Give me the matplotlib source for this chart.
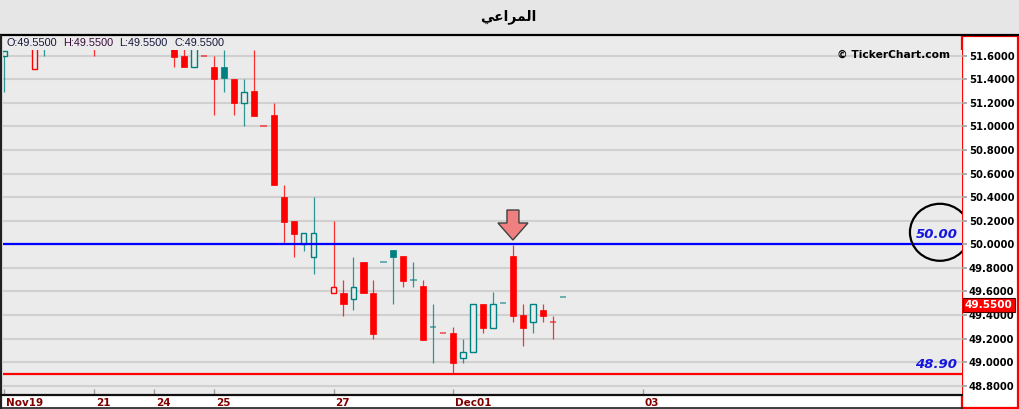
import numpy as np
import matplotlib
matplotlib.use("Agg")
import matplotlib.pyplot as plt
import matplotlib.transforms as mtrans
from matplotlib.patches import Rectangle, Ellipse, Polygon
from matplotlib.lines import Line2D

plt.rcParams['font.family'] = ['DejaVu Sans']

nan = np.nan
# ---- data (hourly candles, index 0 = first bar of the window) ----
opens = [51.60, 51.66, 51.70, 51.49, 51.70, nan, nan, nan, nan, 51.73,
         nan, nan, nan, nan, nan, nan, nan, 51.70, 51.60, 51.50,
         51.60, 51.50, 51.50, 51.40, 51.20, 51.30, 51.00, 51.10, 50.40, 50.20,
         50.00, 49.89, nan, 49.59, 49.59, 49.54, 49.85, 49.59, 49.85, 49.95,
         49.90, 49.70, 49.65, 49.30, 49.245, 49.245, 49.04, 49.09, 49.49, 49.29,
         49.50, 49.90, 49.40, 49.34, 49.44, 49.34, 49.55]
highs = [51.64, 51.72, 51.75, 51.68, 51.74, nan, nan, nan, nan, 51.75,
         nan, nan, nan, nan, nan, nan, nan, 51.72, 51.70, 51.70,
         51.60, 51.60, 51.65, 51.40, 51.40, 51.65, 51.00, 51.20, 50.50, 50.20,
         50.095, 50.40, nan, 50.20, 49.70, 49.895, 49.85, 49.70, 49.85, 49.95,
         49.90, 49.85, 49.70, 49.49, 49.245, 49.30, 49.195, 49.49, 49.49, 49.596,
         49.50, 49.994, 49.494, 49.49, 49.494, 49.395, 49.55]
lows = [51.29, 51.66, 51.68, 51.49, 51.60, nan, nan, nan, nan, 51.60,
        nan, nan, nan, nan, nan, nan, nan, 51.50, 51.50, 51.50,
        51.60, 51.10, 51.29, 51.10, 51.00, 51.09, 51.00, 50.50, 50.01, 49.895,
        49.94, 49.75, nan, 49.59, 49.39, 49.44, 49.59, 49.195, 49.85, 49.49,
        49.64, 49.64, 49.19, 48.99, 49.245, 48.90, 48.99, 49.09, 49.245, 49.29,
        49.50, 49.34, 49.14, 49.245, 49.34, 49.195, 49.55]
closes = [51.64, 51.70, 51.72, 51.68, 51.72, nan, nan, nan, nan, 51.70,
          nan, nan, nan, nan, nan, nan, nan, 51.59, 51.50, 51.66,
          51.60, 51.40, 51.41, 51.20, 51.29, 51.09, 51.00, 50.50, 50.19, 50.085,
          50.095, 50.10, nan, 49.64, 49.49, 49.64, 49.59, 49.24, 49.85, 49.895,
          49.69, 49.70, 49.19, 49.30, 49.245, 48.99, 49.09, 49.49, 49.29, 49.49,
          49.50, 49.39, 49.29, 49.49, 49.39, 49.34, 49.55]

tick_idx = [0, 9, 15, 21, 33, 45, 64]
tick_labels = ['Nov19', '21', '24', '25', '27', 'Dec01', '03']
level_values = [50.00, 48.90]
level_labels = ['50.00', '48.90']
level_colors = ['#0000ff', '#ff0000']
header_labels = ['O:49.5500', 'H:49.5500', 'L:49.5500', 'C:49.5500']
last_price = 49.55
signal_bar = 51
title = '\uFEF2\uFECB\uFE8D\uFEAE\uFEE4\uFEDF\uFE8D'   # المراعي (shaped for display)

UP = '#008080'
DOWN = '#ff0000'
BG = '#ebebeb'

W, H = 1020, 409
fig = plt.figure(figsize=(W / 100, H / 100), dpi=100, facecolor=BG)

def fx(px):
    return px / W

def fy(py):
    return 1 - py / H

# background pieces
fig.add_artist(Rectangle((0, fy(34)), 1, 34 / H, transform=fig.transFigure,
                         facecolor='#e6e6e6', edgecolor='none', zorder=-5))
fig.add_artist(Line2D([0, 1], [fy(35), fy(35)], transform=fig.transFigure,
                      color='black', lw=1.6, zorder=-4))
fig.add_artist(Rectangle((0, fy(408)), fx(962), 13 / H, transform=fig.transFigure,
                         facecolor='white', edgecolor='none', zorder=-5))
fig.add_artist(Line2D([0, fx(962)], [fy(408), fy(408)], transform=fig.transFigure,
                      color='#202020', lw=1.2, zorder=-4))
fig.add_artist(Line2D([fx(1.2), fx(1.2)], [fy(36), fy(408)], transform=fig.transFigure,
                      color='#202020', lw=1.6, zorder=-4))
fig.add_artist(Rectangle((fx(962), fy(408)), fx(56), 372 / H, transform=fig.transFigure,
                         facecolor='white', edgecolor='#ff0000', lw=1.6, zorder=-5))
fig.add_artist(Line2D([0, fx(962)], [fy(395), fy(395)], transform=fig.transFigure,
                      color='#101010', lw=1.6, zorder=5))

ax = fig.add_axes([fx(3), fy(395), fx(959), (395 - 50.3) / H])
ax.set_facecolor(BG)
for s in ax.spines.values():
    s.set_visible(False)

o = np.array(opens, float)
h = np.array(highs, float)
l = np.array(lows, float)
c = np.array(closes, float)
x = np.arange(len(o))

# hollow-candle colouring: colour vs previous close, fill vs open
cols = []
prev = nan
for i in range(len(c)):
    if np.isnan(c[i]):
        cols.append(UP)
        continue
    ref = o[i] if np.isnan(prev) else prev
    cols.append(UP if c[i] >= ref else DOWN)
    prev = c[i]
cols = np.array(cols)
valid = ~np.isnan(c)

ax.vlines(x[valid], l[valid], h[valid], colors=cols[valid], lw=0.9, alpha=0.8, zorder=2)
filled = valid & (c < o)
hollow = valid & (c > o)
flat = valid & (c == o)
ax.bar(x[filled], (o - c)[filled], bottom=c[filled], width=0.62,
       color=cols[filled], edgecolor=cols[filled], lw=0.5, zorder=3)
ax.bar(x[hollow], (c - o)[hollow], bottom=o[hollow], width=0.58,
       facecolor=BG, edgecolor=cols[hollow], lw=1.0, zorder=3)
ax.hlines(c[flat], x[flat] - 0.33, x[flat] + 0.33, colors=cols[flat], lw=1.1,
          alpha=0.7, zorder=3)

ax.set_xlim(-0.15, 96.04)
ax.set_ylim(48.7225, 51.6445)

yt = np.round(np.arange(48.8, 51.61, 0.2), 1)
ax.set_yticks(yt)
ax.set_yticklabels(['%.4f' % v for v in yt])
ax.yaxis.tick_right()
ax.grid(axis='y', color='#d0d0d0', lw=1.5)
ax.set_axisbelow(True)
ax.tick_params(axis='y', direction='out', length=3.5, width=1.2, color='#a0a0a0',
               pad=1.5, labelsize=7.2, labelcolor='black')
for t in ax.get_yticklabels():
    t.set_fontweight('bold')

ax.set_xticks(tick_idx)
ax.set_xticklabels(tick_labels)
ax.tick_params(axis='x', direction='in', length=4, width=1, color='#a0a0a0',
               pad=2.5, labelsize=7.5, labelcolor='#800000')
off = mtrans.ScaledTranslation(2 / 100, 0, fig.dpi_scale_trans)
for t in ax.get_xticklabels():
    t.set_fontweight('bold')
    t.set_ha('left')
    t.set_transform(t.get_transform() + off)

# horizontal levels with labels
bl = mtrans.blended_transform_factory(ax.transAxes, ax.transData)
for v, lab, col in zip(level_values, level_labels, level_colors):
    ax.axhline(v, color=col, lw=1.6, zorder=4)
    ax.text(0.9953, v, lab, transform=bl + mtrans.ScaledTranslation(0, 3 / 100, fig.dpi_scale_trans),
            ha='right', va='bottom', color='#1515e0', fontsize=9.5,
            fontweight='bold', fontstyle='italic', zorder=6)

# circle around the 50.00 label
cx, cy = bl.transform((0.977, level_values[0]))
ax.add_patch(Ellipse((cx, cy + 12), 60, 57, transform=mtrans.IdentityTransform(),
                     facecolor='none', edgecolor='black', lw=1.6, zorder=7))

# arrow on the signal bar
hx, hy = ax.transData.transform((signal_bar, h[signal_bar]))
verts = [(0, 5), (-15, 22), (-6, 22), (-6, 35), (6, 35), (6, 22), (15, 22)]
ax.add_patch(Polygon([(hx + a, hy + b) for a, b in verts], closed=True,
                     transform=mtrans.IdentityTransform(), facecolor='#f08080',
                     edgecolor='#404040', lw=1.0, zorder=8, clip_on=False))

# last price tag
ax.text(1.003, last_price, '%.4f' % last_price,
        transform=bl + mtrans.ScaledTranslation(0, -3 / 100, fig.dpi_scale_trans),
        ha='left', va='top', color='white', fontsize=7.6, fontweight='bold',
        zorder=10, clip_on=False,
        bbox=dict(boxstyle='square,pad=0.18', facecolor='#ff0000', edgecolor='#500000', lw=0.8))

# header texts
hx_pos = [7, 63, 119, 175]
hcols = ['#15153a', '#3a0a3a', '#15153a', '#15153a']
for px, txt, col in zip(hx_pos, header_labels, hcols):
    fig.text(fx(px), fy(43.5), txt, ha='left', va='center', fontsize=7.8,
             family='Liberation Sans', color=col)

fig.text(fx(950), fy(55), '\u00a9 TickerChart.com', ha='right', va='center',
         fontsize=7.7, fontweight='bold', color='black')

fig.text(fx(508), fy(17), title, ha='center', va='center', fontsize=10,
         fontweight='bold', color='black')

fig.savefig('out.png', dpi=100, facecolor=BG)
